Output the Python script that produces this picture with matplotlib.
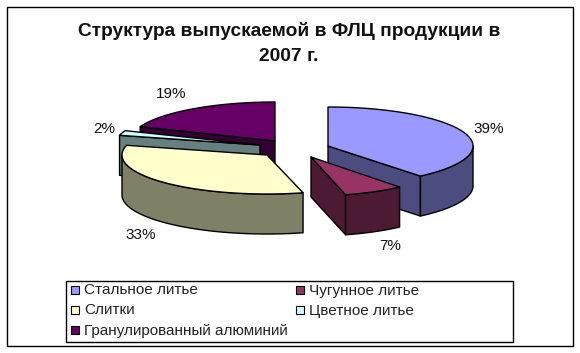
import numpy as np
import matplotlib
matplotlib.use("Agg")
import matplotlib.pyplot as plt
from matplotlib.patches import Polygon, Rectangle

plt.rcParams['font.family'] = ['Liberation Sans', 'DejaVu Sans']

title = "Структура выпускаемой в ФЛЦ продукции в\n2007 г."
names = ["Стальное литье", "Чугунное литье", "Слитки", "Цветное литье", "Гранулированный алюминий"]
values = [39, 7, 33, 2, 19]
top_colors = ["#9999FF", "#993366", "#FFFFCC", "#CCFFFF", "#660066"]
side_colors = ["#4C4C80", "#4D1A33", "#808066", "#668080", "#330033"]

# layout, in pixels of the picture
apex_x = [328, 311, 267, 260, 275]
apex_y = [146, 157, 155, 145, 141]
radius_x = [145, 139, 145, 145, 145]
label_x = [489, 390, 141, 104, 171]
label_y = [129, 246, 235, 129, 94]
legend_x = [71, 296, 71, 296, 71]
legend_y = [290, 290, 310, 310, 330]
draw_order = [4, 3, 2, 0, 1]
RY, DEPTH = 39, 40


def point(i, deg):
    a = np.radians(deg)
    return apex_x[i] + radius_x[i] * np.sin(a), apex_y[i] - RY * np.cos(a)


fig = plt.figure(figsize=(5.8, 3.53), dpi=100)
ax = fig.add_axes([0, 0, 1, 1])
ax.set_xlim(0, 580)
ax.set_ylim(353, 0)
ax.axis("off")

ax.add_patch(Rectangle((6.5, 6.5), 566, 339.5, fc="white", ec="black", lw=1))

edges = np.concatenate([[0], np.cumsum(values)]) * 3.6

for i in draw_order:
    start, end = edges[i], edges[i + 1]
    apex = (apex_x[i], apex_y[i])
    # radial faces turned towards the viewer
    for deg, normal in ((start, start - 90), (end, end + 90)):
        if np.cos(np.radians(normal)) < -0.01:
            p = point(i, deg)
            ax.add_patch(Polygon([apex, p, (p[0], p[1] + DEPTH), (apex[0], apex[1] + DEPTH)],
                                 fc=side_colors[i], ec="black", lw=1, joinstyle="round"))
    # outer wall
    w0, w1 = max(start, 90), min(end, 270)
    if w1 > w0:
        pts = [point(i, d) for d in np.linspace(w0, w1, 50)]
        wall = pts + [(x, y + DEPTH) for x, y in pts[::-1]]
        ax.add_patch(Polygon(wall, fc=side_colors[i], ec="black", lw=1, joinstyle="round"))
    # top face
    pts = [apex] + [point(i, d) for d in np.linspace(start, end, 60)]
    ax.add_patch(Polygon(pts, fc=top_colors[i], ec="black", lw=1, joinstyle="round"))

for i, v in enumerate(values):
    ax.text(label_x[i], label_y[i], f"{v}%", ha="center", va="center", fontsize=11, color="#111111")

ax.text(289, 43.5, title, ha="center", va="center", fontsize=13.75, fontweight="bold",
        linespacing=1.55, color="#111111")

ax.add_patch(Rectangle((65.5, 280.5), 447.5, 61.5, fc="white", ec="black", lw=1))
for i, name in enumerate(names):
    ax.add_patch(Rectangle((legend_x[i], legend_y[i] - 4), 8, 8, fc=top_colors[i], ec="black", lw=0.8))
    ax.text(legend_x[i] + 13, legend_y[i] + 0.5, name, ha="left", va="center", fontsize=11, color="#222222")

fig.savefig("out.png", dpi=100)
